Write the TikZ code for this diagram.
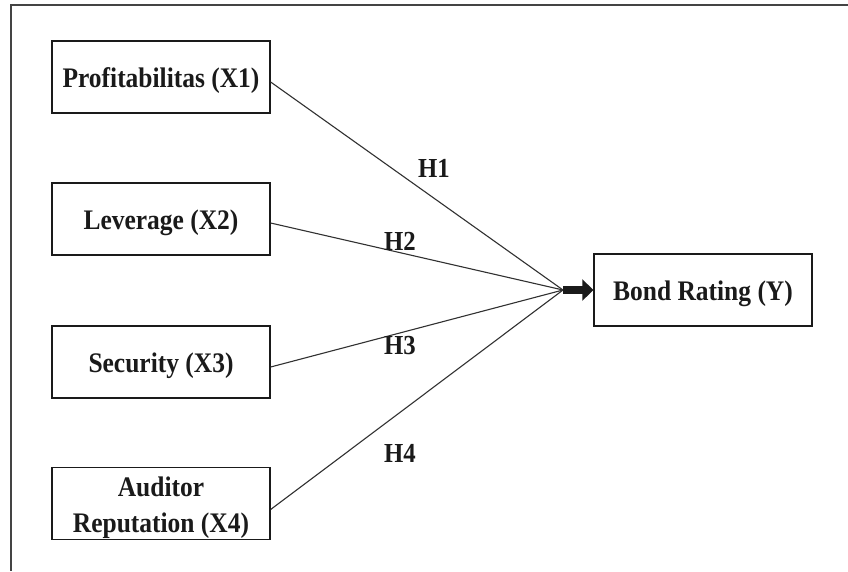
\documentclass[tikz,border=0pt]{standalone}
\usepackage{fontspec}
\setmainfont[FakeStretch=0.9]{Liberation Serif}
\usetikzlibrary{arrows.meta}
\definecolor{ink}{HTML}{1A1A1A}
\definecolor{framec}{HTML}{444444}
\tikzset{
  varbox/.style={draw=ink, line width=1.3pt, minimum width=218pt, minimum height=72pt,
    inner sep=0pt, align=center, text=ink, font=\bfseries\fontsize{28.3}{36}\selectfont},
  oneline/.style={text height=26pt, text depth=6pt},
  hlabel/.style={text=ink, font=\bfseries\fontsize{27.5}{30}\selectfont, inner sep=0pt},
  link/.style={draw=ink!90, line width=1.1pt}
}
\begin{document}
\begin{tikzpicture}[x=1pt, y=-1pt]
\useasboundingbox (0,0) rectangle (848,571);
\fill[white] (0,0) rectangle (848,571);
\draw[framec, line width=2pt] (848,5) -- (11,5) -- (11,571);
\node[varbox, oneline] (X1) at (161,77) {Profitabilitas (X1)};
\node[varbox, oneline] (X2) at (161,219) {Leverage (X2)};
\node[varbox, oneline] (X3) at (161,362) {Security (X3)};
\node[varbox] (X4) at (161,503.5) {\rule{0pt}{29pt}Auditor\\Reputation (X4)};
\node[varbox, oneline] (Y) at (703,290) {Bond Rating (Y)};
\coordinate (c) at (563,290);
\draw[link] ([yshift=-5pt]X1.east) -- (c);
\draw[link] ([yshift=-4pt]X2.east) -- (c);
\draw[link] ([yshift=-5pt]X3.east) -- (c);
\draw[link] ([yshift=-6pt]X4.east) -- (c);
\draw[ink, line width=8pt, -{Triangle[length=11pt, width=21pt]}] (c) -- (Y.west);
\node[hlabel] (h1) at (434,168) {H1};
\node[hlabel] (h2) at (400,241) {H2};
\node[hlabel] (h3) at (400,346) {H3};
\node[hlabel] (h4) at (400,453) {H4};
\end{tikzpicture}
\end{document}
